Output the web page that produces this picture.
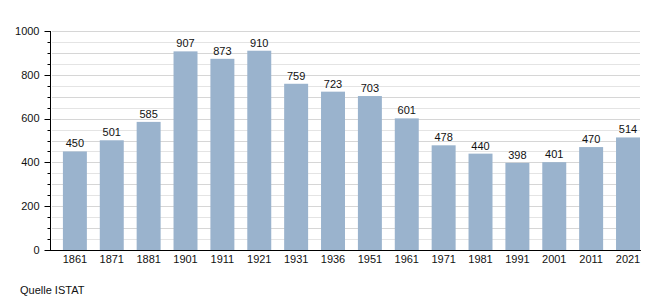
<!DOCTYPE html>
<html>
<head>
<meta charset="utf-8">
<script src="https://cdn.jsdelivr.net/npm/d3@7"></script>
<style>
	body { margin: 0; background: #fff; }
	text { font-family: "Liberation Sans", Arial, sans-serif; }
</style>
</head>
<body>
<div id="chart"></div>
<script>
const years = ['1861', '1871', '1881', '1901', '1911', '1921', '1931', '1936', '1951', '1961', '1971', '1981', '1991', '2001', '2011', '2021']
const population = [450, 501, 585, 907, 873, 910, 759, 723, 703, 601, 478, 440, 398, 401, 470, 514]
const yTicks = [0, 200, 400, 600, 800, 1000]
const source = 'Quelle ISTAT'

const width = 670
const height = 300
const margin = { top: 31, right: 30, bottom: 50, left: 50 }

const svg = d3
	.select('#chart')
	.append('svg')
	.attr('width', width)
	.attr('height', height)

// each band holds a gap on its left, then the bar
const x = d3
	.scaleBand()
	.domain(years)
	.range([margin.left, width - margin.right])
	.padding(0)

const gap = x.step() * 0.35
const barWidth = x.step() - gap

const y = d3
	.scaleLinear()
	.domain([0, 1000])
	.range([height - margin.bottom, margin.top])

// grid lines every 50
svg
	.append('g')
	.selectAll('line')
	.data(d3.range(50, 1001, 50))
	.join('line')
	.attr('x1', margin.left + 2)
	.attr('x2', width - margin.right)
	.attr('y1', d => Math.round(y(d)) + 0.5)
	.attr('y2', d => Math.round(y(d)) + 0.5)
	.attr('stroke', d => (d % 100 === 0 ? '#d6d6d6' : '#e4e4e4'))

// bars
svg
	.append('g')
	.selectAll('rect')
	.data(population)
	.join('rect')
	.attr('x', (d, i) => x(years[i]) + gap)
	.attr('width', barWidth)
	.attr('y', d => y(d))
	.attr('height', d => y(0) - y(d))
	.attr('fill', '#9ab3cd')

// value labels
svg
	.append('g')
	.selectAll('text')
	.data(population)
	.join('text')
	.attr('x', (d, i) => x(years[i]) + gap + barWidth / 2)
	.attr('y', d => y(d) - 4)
	.attr('text-anchor', 'middle')
	.attr('font-size', 11)
	.attr('fill', '#111')
	.text(d => d)

// y axis, minor ticks every 50
const yAxis = svg
	.append('g')
	.attr('transform', `translate(${margin.left + 0.5},0)`)

yAxis
	.append('line')
	.attr('y1', y(1000))
	.attr('y2', y(0))
	.attr('stroke', '#000')

yAxis
	.selectAll('line.tick')
	.data(d3.range(0, 1001, 50))
	.join('line')
	.classed('tick', true)
	.attr('x1', d => (d % 200 === 0 ? -6 : -3))
	.attr('x2', 0)
	.attr('y1', d => Math.round(y(d)) + 0.5)
	.attr('y2', d => Math.round(y(d)) + 0.5)
	.attr('stroke', '#000')

yAxis
	.selectAll('text')
	.data(yTicks)
	.join('text')
	.attr('x', -11)
	.attr('y', d => y(d))
	.attr('dy', '0.35em')
	.attr('text-anchor', 'end')
	.attr('font-size', 11)
	.attr('fill', '#111')
	.text(d => d)

// x axis
svg
	.append('line')
	.attr('x1', margin.left)
	.attr('x2', width - margin.right + 1)
	.attr('y1', y(0) + 0.5)
	.attr('y2', y(0) + 0.5)
	.attr('stroke', '#000')

svg
	.append('g')
	.selectAll('text')
	.data(years)
	.join('text')
	.attr('x', d => x(d) + gap + barWidth / 2)
	.attr('y', y(0) + 13)
	.attr('text-anchor', 'middle')
	.attr('font-size', 11)
	.attr('fill', '#111')
	.text(d => d)

svg
	.append('text')
	.attr('x', 20)
	.attr('y', 294)
	.attr('font-size', 11)
	.attr('fill', '#111')
	.text(source)
</script>
</body>
</html>
